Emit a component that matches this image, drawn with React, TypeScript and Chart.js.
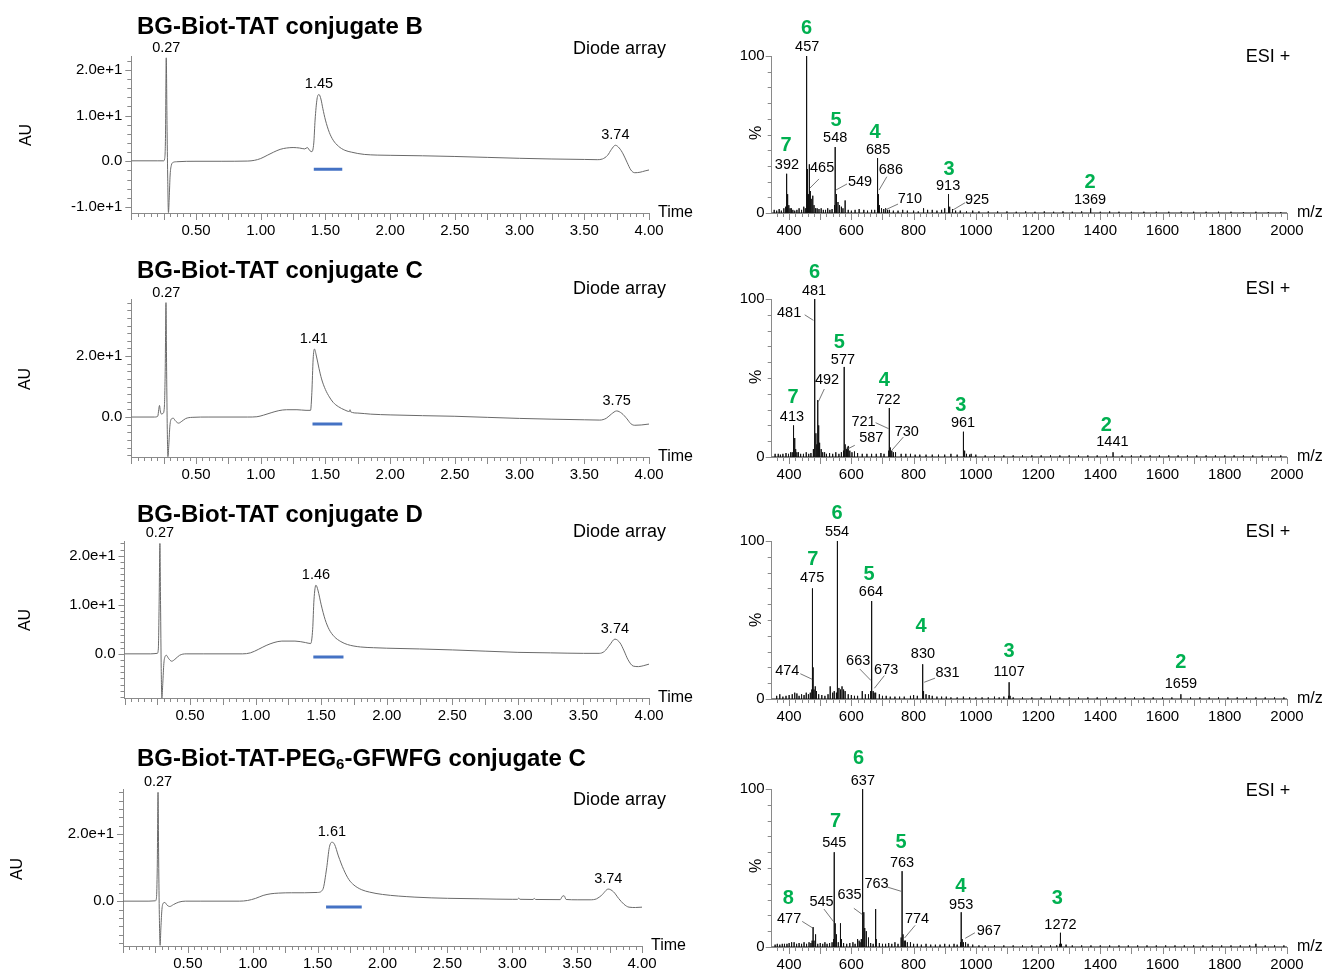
import React, { useEffect, useRef } from "react";
import { Chart, registerables } from "chart.js";
Chart.register(...registerables);

const FONT = "'Liberation Sans', Arimo, Arial, Helvetica, sans-serif";
const AXIS = "#8a8a8a";
const TRACE = "#6a6a6a";
const GREEN = "#00b050";
const BLUE = "#4472c4";

type P = [number, number];

// ---------------- Chromatograms: [time (min), AU] ----------------
const chromB: P[] = [[0,0.1],[0.2,0.1],[0.25,0.1],[0.258,0.6],[0.264,5],[0.27,22.6],[0.276,8],[0.281,-3],[0.287,-11.2],[0.293,-8],[0.3,-3],[0.31,-0.8],[0.32,-0.3],[0.35,-0.1],[0.5,0],[0.7,0],[0.9,0.05],[0.95,0.2],[1.0,0.6],[1.05,1.3],[1.1,2.0],[1.15,2.6],[1.2,2.9],[1.25,3.0],[1.3,2.9],[1.34,2.7],[1.36,3.0],[1.38,2.3],[1.395,2.1],[1.41,4],[1.42,9],[1.435,13.6],[1.45,14.6],[1.465,13.6],[1.48,11.5],[1.5,9],[1.53,6.3],[1.56,4.6],[1.6,3.3],[1.65,2.4],[1.7,2.0],[1.75,1.7],[1.8,1.5],[1.9,1.35],[2.0,1.3],[2.25,1.2],[2.5,1.05],[2.75,0.85],[3.0,0.65],[3.25,0.5],[3.5,0.4],[3.6,0.35],[3.64,0.5],[3.68,1.3],[3.71,2.6],[3.74,3.5],[3.77,2.9],[3.8,1.6],[3.83,-0.2],[3.86,-1.9],[3.89,-2.5],[3.93,-2.4],[3.97,-2.1],[4.0,-1.9]];
const chromC: P[] = [[0,0],[0.18,0],[0.205,0.3],[0.212,2.5],[0.218,3.8],[0.224,2],[0.232,1],[0.245,1.2],[0.255,3],[0.262,15],[0.268,37.5],[0.273,15],[0.278,-4],[0.283,-13],[0.29,-9],[0.298,-3],[0.31,-0.6],[0.325,-0.4],[0.34,-1.2],[0.365,-2],[0.39,-1.4],[0.42,-0.5],[0.47,-0.1],[0.6,0],[0.9,0],[0.97,0.1],[1.02,0.6],[1.08,1.4],[1.14,2.1],[1.2,2.4],[1.28,2.4],[1.35,2.2],[1.385,2.2],[1.395,8],[1.405,19],[1.415,22.3],[1.43,20],[1.45,16],[1.47,12.5],[1.5,9],[1.53,6.6],[1.56,4.8],[1.6,3.4],[1.65,2.3],[1.685,1.8],[1.69,2.4],[1.695,1.7],[1.75,1.3],[1.85,0.95],[2.0,0.7],[2.25,0.45],[2.5,0.25],[2.75,-0.1],[3.0,-0.45],[3.25,-0.7],[3.5,-0.9],[3.62,-1.0],[3.67,-0.4],[3.71,1.0],[3.75,2.0],[3.79,1.2],[3.83,-0.6],[3.86,-2.2],[3.89,-2.7],[3.94,-2.6],[4.0,-2.3]];
const chromD: P[] = [[0,0],[0.2,0],[0.25,0.1],[0.258,1],[0.264,10],[0.27,22.5],[0.275,10],[0.28,-3],[0.285,-9],[0.292,-6],[0.3,-2],[0.31,-0.5],[0.32,-0.3],[0.335,-0.9],[0.36,-1.5],[0.385,-1.1],[0.42,-0.3],[0.47,0],[0.6,0],[0.9,0],[0.96,0.2],[1.02,0.9],[1.08,1.7],[1.14,2.3],[1.2,2.6],[1.3,2.6],[1.38,2.3],[1.42,2.1],[1.435,5],[1.445,11],[1.46,14],[1.475,13],[1.5,10],[1.53,7],[1.56,5],[1.6,3.5],[1.65,2.5],[1.7,1.9],[1.8,1.4],[1.9,1.25],[2.0,1.15],[2.25,1.0],[2.5,0.8],[2.75,0.55],[3.0,0.3],[3.25,0.2],[3.5,0.1],[3.62,0.1],[3.66,0.5],[3.7,1.8],[3.74,3.0],[3.78,2.2],[3.81,0.6],[3.84,-1.2],[3.88,-2.5],[3.92,-2.6],[3.96,-2.4],[4.0,-2.1]];
const chromPEG: P[] = [[0,0],[0.2,0],[0.25,0.1],[0.258,1],[0.264,10],[0.27,32.5],[0.275,12],[0.28,-4],[0.286,-13.2],[0.292,-8],[0.3,-2.5],[0.31,-0.6],[0.322,-0.4],[0.34,-1.2],[0.36,-1.6],[0.39,-1.0],[0.43,-0.3],[0.48,0],[0.6,0],[0.9,0],[0.96,0.2],[1.02,0.8],[1.08,1.7],[1.14,2.2],[1.2,2.4],[1.3,2.5],[1.4,2.5],[1.5,2.6],[1.54,3.5],[1.57,10],[1.59,16],[1.61,17.6],[1.63,17],[1.66,13.5],[1.7,9.5],[1.74,6.5],[1.78,4.8],[1.84,3.4],[1.9,2.7],[2.0,2.0],[2.25,1.2],[2.5,0.85],[2.75,0.7],[3.0,0.55],[3.04,0.55],[3.05,0.9],[3.06,0.55],[3.16,0.5],[3.17,0.8],[3.18,0.5],[3.37,0.45],[3.385,1.4],[3.4,1.6],[3.415,0.5],[3.5,0.4],[3.6,0.4],[3.65,0.7],[3.69,1.8],[3.74,3.6],[3.78,2.8],[3.82,0.8],[3.86,-0.9],[3.9,-1.8],[3.95,-1.9],[4.0,-1.8]];

// collected fraction bars: [start, end, level]
const fracB = [1.41, 1.63, -1.75];
const fracC = [1.40, 1.63, -2.3];
const fracD = [1.44, 1.67, -0.65];
const fracPEG = [1.565, 1.84, -1.76];

// labelled retention times
const peaksB = [0.27, 1.45, 3.74];
const peaksC = [0.27, 1.41, 3.75];
const peaksD = [0.27, 1.46, 3.74];
const peaksPEG = [0.27, 1.61, 3.74];

// tick labels
const CHROM_X_TICKS = [0.5, 1, 1.5, 2, 2.5, 3, 3.5, 4];
const yTicksB = [-10, 0, 10, 20];
const yTicksC = [0, 20];
const yTicksD = [0, 10, 20];
const yTicksPEG = [0, 20];
const MS_X_TICKS = [400, 600, 800, 1000, 1200, 1400, 1600, 1800, 2000];
const MS_Y_TICKS = [0, 100];

// ---------------- Mass spectra: [m/z, %] ----------------
const msB: P[] = [[389,4],[392,25],[394,12],[396,9],[399,5],[403,3],[455,6],[457,100],[459,28],[462,12],[465,31],[468,14],[471,9],[476,11],[480,5],[485,3],[546,5],[548,42],[551,12],[553,8],[557,7],[562,5],[568,4],[580,8],[683,4],[685,35],[687,12],[690,5],[697,3],[704,2.5],[710,3],[716,2],[911,3],[913,12],[916,4],[925,2.5],[1369,3]];
const msBNoise: P[] = [[352,2],[360,1.5],[368,2.5],[375,1.5],[383,3],[407,3],[412,2],[418,1.5],[425,2],[432,3],[440,2],[447,4],[452,3],[490,3],[496,2.5],[503,3],[510,2],[517,2],[524,3],[531,2],[538,2.5],[573,3],[590,2],[600,1.5],[612,2],[625,2.5],[640,2],[652,1.5],[665,2],[675,2],[722,2],[735,1.5],[750,1.5],[765,2],[780,1.5],[800,1.5],[815,1],[832,3],[845,2],[860,2],[875,1.5],[890,2],[900,3],[935,1.5],[950,1.5],[970,1],[990,1.5],[1010,1],[1040,1],[1070,1],[1100,1],[1130,0.8],[1160,1],[1190,0.8],[1220,1],[1250,0.8],[1280,1],[1310,0.8],[1340,1],[1400,0.8],[1430,1],[1460,0.8],[1500,0.8],[1540,0.8],[1580,0.8],[1620,0.8],[1660,0.8],[1700,0.8],[1740,0.8],[1780,0.8],[1820,0.8],[1860,0.6],[1900,0.8],[1940,0.6],[1980,0.6]];

const msC: P[] = [[410,3],[413,20],[415,9],[418,12],[421,5],[425,3],[478,5],[481,100],[483,62],[486,15],[489,8],[492,36],[495,20],[498,9],[503,5],[508,3],[575,4],[577,57],[580,8],[584,5],[587,6],[590,7],[595,4],[602,3],[610,3.5],[720,4],[722,31],[725,6],[730,4],[735,3],[742,3],[959,3],[961,16],[964,4],[970,2],[980,1.5],[1441,3]];
const msCNoise: P[] = [[355,2],[365,2],[372,1.5],[380,2],[390,2.5],[398,2],[405,3],[430,3],[437,2],[446,2],[455,3],[463,2],[470,2.5],[514,3],[520,2],[530,2.5],[540,2],[550,3],[560,2],[568,3],[620,2.5],[635,2],[650,2],[665,2],[680,2],[695,2.5],[705,2],[760,2],[775,2],[790,2],[805,1.5],[820,1.5],[840,1.5],[860,1.5],[880,1.5],[900,1.5],[920,2],[940,1.5],[985,2],[1000,1.5],[1030,1],[1060,1],[1090,1],[1120,1],[1150,1],[1180,1],[1210,1],[1240,1],[1270,1],[1300,1],[1330,1],[1360,1],[1390,1],[1420,1],[1470,1],[1500,1],[1530,1],[1560,1],[1590,1],[1620,1],[1650,1],[1680,1],[1710,1],[1740,1],[1770,1],[1800,1],[1830,1],[1860,1],[1890,1],[1920,1],[1950,1],[1980,1]];

const msD: P[] = [[473,6],[475,70],[477,20],[480,6],[484,8],[488,5],[552,4],[554,100],[556,10],[560,7],[565,6],[570,8],[575,6],[580,5],[662,5],[664,62],[666,12],[670,5],[673,4],[678,4],[828,3],[830,22],[832,5],[840,3],[850,2.5],[1105,2],[1107,10.6],[1110,2],[1659,3]];
const msDNoise: P[] = [[360,2],[370,3],[380,1.5],[390,2],[400,2.5],[410,3],[418,4],[425,3.5],[432,2],[440,3],[448,2.5],[455,4],[462,3],[468,4],[495,3],[505,2.5],[515,2],[525,3],[532,8],[540,4],[545,5],[590,3],[600,2.5],[610,2],[620,2],[635,5],[645,3],[655,3],[690,3],[700,2],[712,2],[725,1.5],[740,1.5],[755,1.5],[770,1.5],[790,2],[800,2.5],[812,2],[860,2],[875,1.5],[890,1.5],[905,1.5],[920,1],[940,1],[960,1.5],[980,1],[1000,1],[1020,1],[1040,1],[1060,1.5],[1075,1],[1090,1.5],[1120,1],[1150,1],[1180,1],[1210,1],[1240,2],[1270,1],[1300,1],[1330,1],[1360,1],[1390,1],[1420,1],[1450,1],[1480,1],[1510,1],[1540,1],[1570,1],[1600,1],[1630,1],[1690,1],[1720,1],[1750,1],[1780,1],[1810,1],[1840,1],[1870,1],[1900,1],[1930,1],[1960,1],[1990,1]];

const msPEG: P[] = [[474,4],[477,12.6],[480,4],[485,8],[543,5],[545,60],[548,15],[552,8],[565,15],[568,5],[620,5],[625,4],[632,5],[635,8],[637,100],[640,22],[643,12],[648,10],[655,6],[678,24],[680,5],[760,6],[763,48],[766,8],[770,4],[774,4],[780,3],[790,3],[951,3],[953,22],[956,5],[960,3],[967,3],[975,2],[1270,2],[1272,9],[1275,2],[1290,1.5],[1900,2]];
const msPEGNoise: P[] = [[355,1.5],[362,2],[370,1.5],[378,2],[385,2],[393,2],[400,2.5],[408,3],[416,3],[424,2],[432,2.5],[440,2],[448,3],[456,2],[464,3],[470,2.5],[492,2],[500,2.5],[508,2],[515,3],[522,2],[530,2.5],[538,3],[558,3],[575,2.5],[585,2],[595,2.5],[605,3],[612,2],[628,3],[662,2.5],[670,2],[690,2.5],[700,2],[710,2],[720,2.5],[730,2],[740,3],[750,2],[800,2],[812,2],[825,1.5],[840,2],[855,1.5],[870,1.5],[885,1.5],[900,2],[915,1.5],[930,2],[940,1.5],[990,1.5],[1010,1],[1030,1],[1060,1],[1090,1],[1120,1],[1150,1],[1180,1],[1210,1],[1240,1],[1260,1],[1310,1],[1340,1],[1370,1],[1400,1],[1430,1],[1460,1],[1490,1],[1520,1],[1550,1],[1580,1],[1610,1],[1640,1],[1670,1],[1700,1],[1730,1],[1760,1],[1790,1],[1820,1],[1850,1],[1880,1],[1930,1],[1960,1],[1990,1]];

// ---------------- Spectrum annotations ----------------
// charge states [text, m/z, %]
const chgB: [string, number, number][] = [["6",456,117.8],["7",390,42.7],["5",551,59.2],["4",676,51],["3",914,27.4],["2",1367,19.7]];
const chgC: [string, number, number][] = [["6",482,116.6],["7",413,37.8],["5",561,72.7],["4",706,48.3],["3",952,32.5],["2",1419,20.2]];
const chgD: [string, number, number][] = [["6",554,117.4],["7",476,88.4],["5",657,78.6],["4",824,45.9],["3",1107,30.3],["2",1659,23.4]];
const chgPEG: [string, number, number][] = [["8",397,30.4],["7",549,79.2],["6",623,119],["5",760,66],["4",952,38.2],["3",1262,30.4]];
// m/z labels [text, m/z, %]
const mzB: [string, number, number][] = [["457",458,105.7],["392",393,30.6],["465",506,28.7],["548",548,47.8],["549",628,19.7],["685",686,40],["686",727,27.4],["710",788,8.9],["913",911,17.2],["925",1004,8.3],["1369",1367,8.3]];
const mzC: [string, number, number][] = [["481",480,105],["481",400,91],["577",573,61.4],["492",522,48.6],["413",409,25.3],["722",719,36.2],["721",639,22.4],["730",778,16],["587",664,11.8],["961",959,21.6],["1441",1439,9.2]];
const mzD: [string, number, number][] = [["554",554,105.8],["475",474,76.6],["664",663,67.7],["830",830,28.3],["1107",1107,17],["1659",1659,9.5],["474",394,18],["663",622,24],["673",712,18.2],["831",909,16.5]];
const mzPEG: [string, number, number][] = [["477",400,17.5],["545",504,28.5],["545",545,65.8],["635",594,32.8],["637",637,105],["763",681,40],["763",763,53],["774",811,17.6],["953",953,26.8],["967",1042,10.2],["1272",1272,13.8]];
// leader lines [m/z1, %1, m/z2, %2]
const leadB: number[][] = [[496,21.7,467,15.9],[586,18.5,550,14.6],[714,23.1,689,14.6],[750,5.7,708,1.9],[966,6.6,926,1.9]];
const leadC: number[][] = [[450,90,478,86.5],[513,43,494,35],[678,21.7,720,17.9],[767,12.6,730,4.2],[611,7.4,587,5]];
const leadD: number[][] = [[436,16,474,12.5],[627,19,663,11.7],[706,14.8,674,6.8],[869,13.2,834,10.6]];
const leadPEG: number[][] = [[442,16.2,476,12],[512,24,543,16],[608,24.5,635,20.6],[716,37.9,761,35.2],[805,13.7,771,5.7],[997,9,966,5.5]];

// ---------------- drawing helpers ----------------
const decoPlugin = {
  id: "deco",
  afterDraw(chart: any) {
    const o = chart.options.plugins.deco;
    if (!o) return;
    const ctx = chart.ctx as CanvasRenderingContext2D;
    const xs = chart.scales.x, ys = chart.scales.y;
    const area = chart.chartArea;
    ctx.save();
    // minor / major tick marks
    ctx.strokeStyle = AXIS;
    ctx.lineWidth = 1;
    ctx.beginPath();
    const tk = (sc: any, t: any, axis: string) => {
      const i0 = Math.ceil((sc.min - 1e-9) / t.step);
      const i1 = Math.floor((sc.max + 1e-9) / t.step);
      for (let i = i0; i <= i1; i++) {
        const v = i * t.step;
        const r = v / t.major;
        const len = Math.abs(r - Math.round(r)) < 1e-6 ? t.majorLen : t.minorLen;
        const p = Math.round(sc.getPixelForValue(v)) + 0.5;
        if (axis === "x") { ctx.moveTo(p, area.bottom); ctx.lineTo(p, area.bottom + len); }
        else { ctx.moveTo(area.left, p); ctx.lineTo(area.left - len, p); }
      }
    };
    tk(xs, o.xt, "x");
    tk(ys, o.yt, "y");
    ctx.stroke();

    // page-positioned texts
    ctx.textBaseline = "middle";
    for (const t of o.texts) {
      ctx.font = t.font;
      ctx.fillStyle = t.color || "#000";
      ctx.textAlign = t.align || "left";
      const x = t.x - o.ox, y = t.y - o.oy;
      if (t.rotate) {
        ctx.save(); ctx.translate(x, y); ctx.rotate(-Math.PI / 2); ctx.textAlign = "center"; ctx.fillText(t.text, 0, 0); ctx.restore();
      } else if (t.parts) {
        let cx = x;
        for (const p of t.parts) {
          ctx.font = p.font;
          ctx.fillText(p.text, cx, y + (p.dy || 0));
          cx += ctx.measureText(p.text).width;
        }
      } else {
        ctx.fillText(t.text, x, y);
      }
    }

    // chromatogram retention-time labels
    if (o.peaks) {
      ctx.font = "14.5px " + FONT;
      ctx.fillStyle = "#000";
      ctx.textAlign = "center";
      for (const rt of o.peaks) {
        let m = -Infinity;
        for (const [x, y] of o.series) if (Math.abs(x - rt) <= 0.03 && y > m) m = y;
        ctx.fillText(rt.toFixed(2), xs.getPixelForValue(rt), ys.getPixelForValue(m) - 10);
      }
    }
    // spectrum labels
    if (o.leaders) {
      ctx.strokeStyle = "#555";
      ctx.lineWidth = 0.8;
      ctx.beginPath();
      for (const [a, b, c, d] of o.leaders) {
        ctx.moveTo(xs.getPixelForValue(a), ys.getPixelForValue(b));
        ctx.lineTo(xs.getPixelForValue(c), ys.getPixelForValue(d));
      }
      ctx.stroke();
    }
    if (o.mz) {
      ctx.font = "14.5px " + FONT;
      ctx.fillStyle = "#000";
      ctx.textAlign = "center";
      for (const [t, m, p] of o.mz) ctx.fillText(t, xs.getPixelForValue(m), ys.getPixelForValue(p));
    }
    if (o.chg) {
      ctx.font = "bold 20px " + FONT;
      ctx.fillStyle = GREEN;
      ctx.textAlign = "center";
      for (const [t, m, p] of o.chg) ctx.fillText(t, xs.getPixelForValue(m), ys.getPixelForValue(p));
    }
    ctx.restore();
  },
};

const XH = 25;

function makeConfig(cfg: any) {
  const { cx, cy, cw, ch, area, yw } = cfg;
  const padding = {
    left: area.l - cx - yw,
    top: area.t - cy,
    right: cx + cw - area.r,
    bottom: cy + ch - area.b - XH,
  };
  const tickFont = { family: FONT, size: 15 };
  return {
    type: "line",
    data: { datasets: cfg.datasets },
    plugins: [decoPlugin],
    options: {
      animation: false,
      responsive: false,
      devicePixelRatio: 1,
      events: [],
      layout: { padding },
      plugins: {
        legend: { display: false },
        tooltip: { enabled: false },
        deco: cfg.deco,
      },
      scales: {
        x: {
          type: "linear",
          min: cfg.xmin,
          max: cfg.xmax,
          afterFit: (s: any) => { s.height = XH; },
          afterBuildTicks: (s: any) => { s.ticks = cfg.xticks.map((v: number) => ({ value: v })); },
          ticks: { font: tickFont, color: "#000", padding: 9, autoSkip: false, maxRotation: 0, callback: cfg.xfmt },
          grid: { display: false, drawTicks: false },
          border: { display: true, color: AXIS, width: 1 },
        },
        y: {
          type: "linear",
          min: cfg.ymin,
          max: cfg.ymax,
          afterFit: (s: any) => { s.width = yw; },
          afterBuildTicks: (s: any) => { s.ticks = cfg.yticks.map((v: number) => ({ value: v })); },
          ticks: { font: tickFont, color: "#000", padding: cfg.ypad, autoSkip: false, callback: cfg.yfmt },
          grid: { display: false, drawTicks: false },
          border: { display: true, color: AXIS, width: 1 },
        },
      },
    },
  };
}

function chromPanel(p: any) {
  const pts = p.series.map(([x, y]: P) => ({ x, y }));
  return {
    cx: 0, cy: p.cy, cw: 700, ch: p.ch, area: p.area, yw: 80,
    xmin: 0, xmax: 4, ymin: p.ymin, ymax: p.ymax,
    xticks: CHROM_X_TICKS, yticks: p.yticks, ypad: 9,
    xfmt: (v: number) => v.toFixed(2),
    yfmt: (v: number) => (v === 0 ? "0.0" : v.toExponential(1)),
    datasets: [
      { data: pts, borderColor: TRACE, borderWidth: 1, pointRadius: 0, cubicInterpolationMode: "monotone", fill: false },
      { data: [{ x: p.frac[0], y: p.frac[2] }, { x: p.frac[1], y: p.frac[2] }], borderColor: BLUE, borderWidth: 3, pointRadius: 0, borderCapStyle: "butt" },
    ],
    deco: {
      ox: 0, oy: p.cy,
      xt: { step: 0.05, major: 0.25, minorLen: 4, majorLen: 7 },
      yt: { step: p.ystep, major: p.ymajor, minorLen: 4, majorLen: 6 },
      series: p.series,
      peaks: p.peaks,
      texts: [
        p.titleParts
          ? { parts: p.titleParts, x: 137, y: p.titleY }
          : { text: p.title, font: "bold 24px " + FONT, x: 137, y: p.titleY },
        { text: "Diode array", font: "18px " + FONT, x: 573, y: p.diodeY },
        { text: "AU", font: "16px " + FONT, x: p.auX, y: p.auY, rotate: true },
        { text: "Time", font: "16px " + FONT, x: p.area.r + 9, y: p.area.b },
      ],
    },
  };
}

function msPanel(p: any) {
  const peaks = [...p.peaks, ...p.noise].sort((a: P, b: P) => a[0] - b[0]);
  const pts: { x: number; y: number }[] = [{ x: 344, y: 0 }];
  for (const [m, h] of peaks) pts.push({ x: m, y: 0 }, { x: m, y: h }, { x: m, y: 0 });
  pts.push({ x: 2000, y: 0 });
  return {
    cx: 700, cy: p.cy, cw: 626, ch: p.ch, area: p.area, yw: 50,
    xmin: 344, xmax: 2000, ymin: 0, ymax: 100,
    xticks: MS_X_TICKS, yticks: MS_Y_TICKS, ypad: 7,
    xfmt: (v: number) => String(v),
    yfmt: (v: number) => String(v),
    datasets: [
      { data: pts, borderColor: "#111", borderWidth: 1, pointRadius: 0, tension: 0, fill: false },
    ],
    deco: {
      ox: 700, oy: p.cy,
      xt: { step: 20, major: 100, minorLen: 4, majorLen: 7 },
      yt: { step: 10, major: 100, minorLen: 4, majorLen: 6 },
      chg: p.chg, mz: p.mz, leaders: p.leaders,
      texts: [
        { text: "ESI +", font: "18px " + FONT, x: 1268, y: p.esiY, align: "center" },
        { text: "%", font: "16px " + FONT, x: 757, y: p.pctY, rotate: true },
        { text: "m/z", font: "16px " + FONT, x: p.area.r + 10, y: p.area.b },
      ],
    },
  };
}

const ROWS = [{ cy: 0, ch: 243 }, { cy: 243, ch: 245 }, { cy: 488, ch: 247 }, { cy: 735, ch: 237 }];

const PANELS = [
  chromPanel({ ...ROWS[0], series: chromB, frac: fracB, peaks: peaksB, yticks: yTicksB, ystep: 2, ymajor: 10, ymin: -11.3, ymax: 23, area: { l: 131.3, r: 649, t: 56, b: 213 }, title: "BG-Biot-TAT conjugate B", titleY: 27, diodeY: 49, auX: 27, auY: 135 }),
  chromPanel({ ...ROWS[1], series: chromC, frac: fracC, peaks: peaksC, yticks: yTicksC, ystep: 2.5, ymajor: 20, ymin: -13.1, ymax: 38.5, area: { l: 131.3, r: 649, t: 299.6, b: 457 }, title: "BG-Biot-TAT conjugate C", titleY: 271, diodeY: 289, auX: 26, auY: 379 }),
  chromPanel({ ...ROWS[2], series: chromD, frac: fracD, peaks: peaksD, yticks: yTicksD, ystep: 1.25, ymajor: 10, ymin: -9, ymax: 23, area: { l: 124.5, r: 649, t: 541, b: 698 }, title: "BG-Biot-TAT conjugate D", titleY: 515, diodeY: 532, auX: 26, auY: 620 }),
  chromPanel({ ...ROWS[3], series: chromPEG, frac: fracPEG, peaks: peaksPEG, yticks: yTicksPEG, ystep: 2.5, ymajor: 20, ymin: -13.4, ymax: 33.5, area: { l: 123, r: 642, t: 789, b: 946 }, titleParts: [
      { text: "BG-Biot-TAT-PEG", font: "bold 24px " + FONT },
      { text: "6", font: "bold 15px " + FONT, dy: 6 },
      { text: "-GFWFG conjugate C", font: "bold 24px " + FONT },
    ], titleY: 759, diodeY: 800, auX: 18, auY: 869 }),
  msPanel({ ...ROWS[0], peaks: msB, noise: msBNoise, chg: chgB, mz: mzB, leaders: leadB, area: { l: 771.7, r: 1287, t: 56, b: 213 }, esiY: 57, pctY: 133 }),
  msPanel({ ...ROWS[1], peaks: msC, noise: msCNoise, chg: chgC, mz: mzC, leaders: leadC, area: { l: 771.7, r: 1287, t: 299, b: 457 }, esiY: 289, pctY: 377 }),
  msPanel({ ...ROWS[2], peaks: msD, noise: msDNoise, chg: chgD, mz: mzD, leaders: leadD, area: { l: 771.7, r: 1287, t: 541, b: 699 }, esiY: 532, pctY: 620 }),
  msPanel({ ...ROWS[3], peaks: msPEG, noise: msPEGNoise, chg: chgPEG, mz: mzPEG, leaders: leadPEG, area: { l: 771.7, r: 1287, t: 789, b: 947 }, esiY: 791, pctY: 866 }),
];

function Panel({ cfg }: { cfg: any }) {
  const ref = useRef<HTMLCanvasElement>(null);
  useEffect(() => {
    const chart = new Chart(ref.current as HTMLCanvasElement, makeConfig(cfg) as any);
    return () => chart.destroy();
  }, [cfg]);
  return (
    <canvas
      ref={ref}
      width={cfg.cw}
      height={cfg.ch}
      style={{ position: "absolute", left: cfg.cx, top: cfg.cy, width: cfg.cw, height: cfg.ch, display: "block" }}
    />
  );
}

export default function App() {
  return (
    <div style={{ position: "absolute", left: 0, top: 0, width: 1326, height: 972, background: "#fff", overflow: "hidden" }}>
      {PANELS.map((p, i) => (
        <Panel key={i} cfg={p} />
      ))}
    </div>
  );
}
